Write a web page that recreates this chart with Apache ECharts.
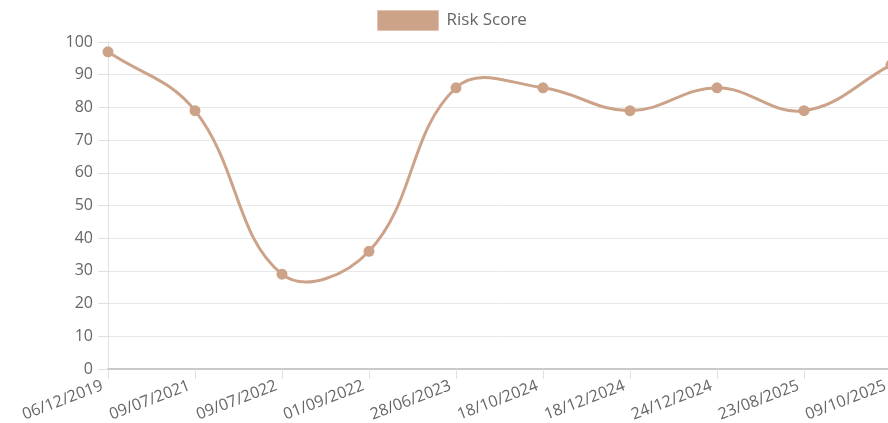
<!DOCTYPE html>
<html><head><meta charset="utf-8">
<script src="https://cdn.jsdelivr.net/npm/echarts@6/dist/echarts.min.js"></script>
<style>html,body{margin:0;padding:0;background:#fff}#c{width:888px;height:423px}</style>
</head><body><div id="c"></div>
<script>
const categories = ['06/12/2019','09/07/2021','09/07/2022','01/09/2022','28/06/2023','18/10/2024','18/12/2024','24/12/2024','23/08/2025','09/10/2025'];
const riskScore = [97, 79, 29, 36, 86, 86, 79, 86, 79, 93];
const seriesName = 'Risk Score';
const yTicks = {min: 0, max: 100, interval: 10};

const color = '#cca388';
const font = 'Open Sans';
const tension = 0.4;

// Cardinal-spline segment like Chart.js, computed from the axis coordinates of the data
function renderSeg(params, api) {
  const i = params.dataIndex;
  const n = riskScore.length;
  if (i >= n - 1) return null;
  const P = k => api.coord([Math.max(0, Math.min(n - 1, k)), riskScore[Math.max(0, Math.min(n - 1, k))]]);
  function cps(k) {
    const prev = P(k - 1), cur = P(k), next = P(k + 1);
    const d01 = Math.hypot(cur[0] - prev[0], cur[1] - prev[1]);
    const d12 = Math.hypot(next[0] - cur[0], next[1] - cur[1]);
    let s01 = d01 / (d01 + d12), s12 = d12 / (d01 + d12);
    if (isNaN(s01)) s01 = 0; if (isNaN(s12)) s12 = 0;
    const fa = tension * s01, fb = tension * s12;
    return {
      prev: [cur[0] - fa * (next[0] - prev[0]), cur[1] - fa * (next[1] - prev[1])],
      next: [cur[0] + fb * (next[0] - prev[0]), cur[1] + fb * (next[1] - prev[1])]
    };
  }
  const a = P(i), b = P(i + 1);
  const c1 = cps(i).next, c2 = cps(i + 1).prev;
  return {
    type: 'bezierCurve',
    shape: {x1: a[0], y1: a[1], x2: b[0], y2: b[1], cpx1: c1[0], cpy1: c1[1], cpx2: c2[0], cpy2: c2[1]},
    style: {stroke: color, lineWidth: 3, fill: null}
  };
}

const chart = echarts.init(document.getElementById('c'));
chart.setOption({
  animation: false,
  textStyle: {fontFamily: font},
  legend: {
    top: 5, left: 372,
    itemWidth: 61, itemHeight: 20,
    icon: 'rect',
    textStyle: {color: '#666', fontSize: 17, fontFamily: font, padding: [0, 0, 0, 3]},
    data: [{name: seriesName, itemStyle: {color: color, borderColor: '#e2c3ae', borderWidth: 1}}]
  },
  grid: {left: 108, right: -3, top: 42, bottom: 54, outerBoundsMode: 'none', containLabel: false},
  xAxis: {
    type: 'category', data: categories, boundaryGap: false,
    axisLine: {lineStyle: {color: '#c8c8c8', width: 2}},
    axisTick: {show: true, length: 10, alignWithLabel: true, lineStyle: {color: '#e0e0e0'}},
    axisLabel: {rotate: 21, color: '#666', fontSize: 16, fontFamily: font, margin: 14, padding: [0, 6, 0, 0], interval: 0},
    splitLine: {show: false}
  },
  yAxis: {
    type: 'value', min: yTicks.min, max: yTicks.max, interval: yTicks.interval,
    axisLine: {show: true, lineStyle: {color: '#e0e0e0'}},
    axisTick: {show: true, length: 10, lineStyle: {color: '#e0e0e0'}},
    axisLabel: {color: '#666', fontSize: 16, fontFamily: font, margin: 15},
    splitLine: {show: true, lineStyle: {color: '#e8e8e8'}}
  },
  series: [
    {
      name: seriesName, type: 'custom', data: riskScore.map((v, i) => [i, v]),
      encode: {x: 0, y: 1}, renderItem: renderSeg, clip: false, z: 2
    },
    {
      name: seriesName, type: 'line', data: riskScore,
      symbol: 'circle', symbolSize: 11,
      lineStyle: {opacity: 0, width: 0},
      itemStyle: {color: color}, z: 3
    }
  ]
});
</script></body></html>
